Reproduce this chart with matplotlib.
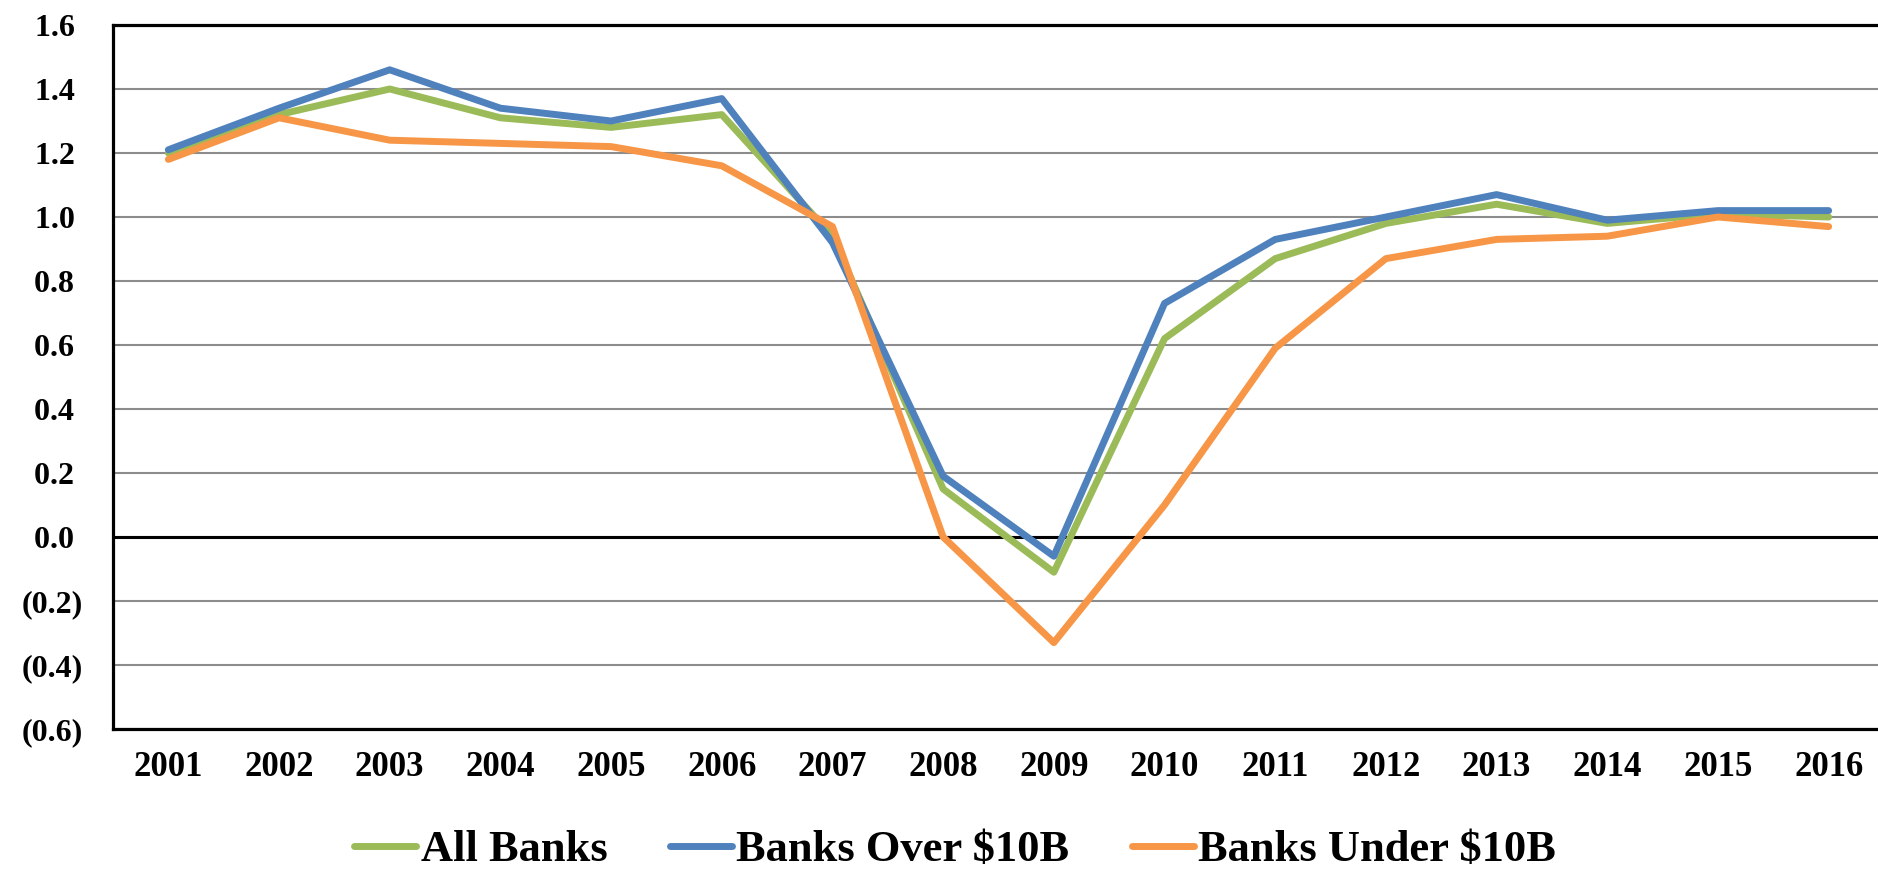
import numpy as np
import matplotlib.pyplot as plt
from matplotlib.ticker import FuncFormatter

years = list(range(2001, 2017))

all_banks = [1.20, 1.32, 1.40, 1.31, 1.28, 1.32, 0.94, 0.15, -0.11, 0.62, 0.87, 0.98, 1.04, 0.98, 1.01, 1.00]
banks_over_10b = [1.21, 1.34, 1.46, 1.34, 1.30, 1.37, 0.92, 0.19, -0.06, 0.73, 0.93, 1.00, 1.07, 0.99, 1.02, 1.02]
banks_under_10b = [1.18, 1.31, 1.24, 1.23, 1.22, 1.16, 0.97, 0.00, -0.33, 0.10, 0.59, 0.87, 0.93, 0.94, 1.00, 0.97]

y_ticks = np.arange(-0.6, 1.61, 0.2)

GREEN = "#9BBB59"
BLUE = "#4F81BD"
ORANGE = "#F79646"

plt.rcParams["font.family"] = ["Liberation Serif", "DejaVu Serif"]
plt.rcParams["font.weight"] = "bold"

fig = plt.figure(figsize=(18.78, 8.72), dpi=100)
ax = fig.add_axes([113 / 1878, 143 / 872, 1771 / 1878, 704 / 872])

x = np.arange(1, len(years) + 1)
lw = 5.0
ax.plot(x, all_banks, color=GREEN, lw=lw, solid_capstyle="round", label="All Banks", zorder=3)
ax.plot(x, banks_over_10b, color=BLUE, lw=lw, solid_capstyle="round", label="Banks Over $10B", zorder=4)
ax.plot(x, banks_under_10b, color=ORANGE, lw=lw, solid_capstyle="round", label="Banks Under $10B", zorder=5)

ax.set_xlim(0.5, len(years) + 0.5)
ax.set_ylim(-0.6, 1.6)
ax.set_xticks(x)
ax.set_xticklabels([str(y) for y in years])
ax.set_yticks(y_ticks)


def fmt(v, _pos):
    v = round(v, 1)
    if v < 0:
        return f"({abs(v):.1f})"
    return f"{v:.1f} "


ax.yaxis.set_major_formatter(FuncFormatter(fmt))
ax.tick_params(axis="y", length=0, pad=22, labelsize=23)
ax.tick_params(axis="x", length=0, pad=16, labelsize=25)
for lab in ax.get_xticklabels() + ax.get_yticklabels():
    lab.set_fontweight("bold")

ax.grid(axis="y", color="#8c8c8c", lw=1.5, zorder=1)
ax.axhline(0, color="black", lw=2.2, zorder=2)
for side in ("left", "top", "bottom"):
    ax.spines[side].set_linewidth(2.3)
    ax.spines[side].set_color("black")
ax.spines["right"].set_visible(False)

fig.legend(loc="center", bbox_to_anchor=(0.5085, 0.025), ncol=3, frameon=False,
           prop={"size": 32, "weight": "bold"}, handlelength=1.4,
           handletextpad=0.1, columnspacing=1.4, borderpad=0, borderaxespad=0)

fig.savefig("out.png", dpi=100)
